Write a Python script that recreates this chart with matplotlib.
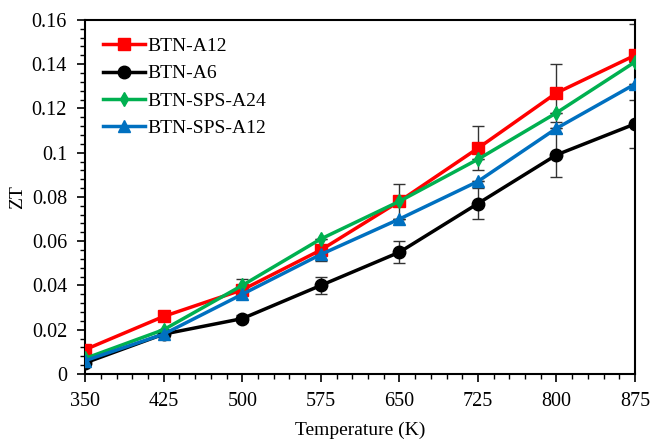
import matplotlib
matplotlib.use("Agg")
import matplotlib.pyplot as plt
import numpy as np

plt.rcParams['font.family'] = ['Liberation Serif', 'DejaVu Serif']

temps = [350, 425, 500, 575, 650, 725, 800, 875]
btn_a12 = [0.011, 0.026, 0.038, 0.056, 0.078, 0.102, 0.127, 0.144]
btn_a12_err = [0.0, 0.002, 0.0, 0.0, 0.008, 0.010, 0.013, 0.014]
btn_a6 = [0.005, 0.018, 0.025, 0.040, 0.055, 0.077, 0.099, 0.113]
btn_a6_err = [0.0, 0.0, 0.0015, 0.004, 0.005, 0.007, 0.010, 0.011]
sps_a24 = [0.007, 0.020, 0.040, 0.061, 0.078, 0.097, 0.118, 0.141]
sps_a24_err = [0.0, 0.0, 0.003, 0.0, 0.0, 0.0, 0.0, 0.0]
sps_a12 = [0.006, 0.018, 0.036, 0.054, 0.070, 0.087, 0.111, 0.131]
sps_a12_err = [0.0, 0.0, 0.0, 0.003, 0.0, 0.0, 0.0, 0.0]

x_ticks = [350, 425, 500, 575, 650, 725, 800, 875]
y_ticks = [0, 0.02, 0.04, 0.06, 0.08, 0.1, 0.12, 0.14, 0.16]
y_tick_labels = ["0", "0.02", "0.04", "0.06", "0.08", "0.1", "0.12", "0.14", "0.16"]

series = [
    ("BTN-A12", btn_a12, btn_a12_err, "#ff0000", "s", 8),
    ("BTN-A6", btn_a6, btn_a6_err, "#000000", "o", 9),
    ("BTN-SPS-A24", sps_a24, sps_a24_err, "#00b050", "d", 7),
    ("BTN-SPS-A12", sps_a12, sps_a12_err, "#0070c0", "^", 8),
]

fig = plt.figure(figsize=(6.5, 4.42), dpi=100)
ax = fig.add_axes([0.131, 0.154, 0.846, 0.801])

handles = []
for name, vals, errs, color, marker, ms in series:
    ax.errorbar(temps, vals, yerr=errs, fmt='none', ecolor="#333333",
                elinewidth=1, capsize=4, capthick=1, zorder=2)
    h, = ax.plot(temps, vals, color=color, marker=marker, ms=ms, lw=2.5,
                 label=name, zorder=3)
    handles.append(h)

ax.set_xlim(350, 875)
ax.set_ylim(0, 0.16)
ax.set_xticks(x_ticks)
ax.set_xticks(np.arange(x_ticks[0], x_ticks[-1] + 1, 15), minor=True)
ax.set_yticks(y_ticks)
ax.set_yticklabels(y_tick_labels)
ax.set_yticks(np.arange(0, 0.1601, 0.004), minor=True)
ax.tick_params(which='major', direction='out', length=6, width=1.2, labelsize=14.5, pad=7)
ax.tick_params(which='minor', direction='out', length=3.5, width=1)
for s in ax.spines.values():
    s.set_linewidth(1.5)

ax.set_xlabel("Temperature (K)", fontsize=14, labelpad=8)
ax.set_ylabel("ZT", fontsize=14, labelpad=4)

ax.legend(handles=handles, loc='upper left', frameon=False, fontsize=14,
          handlelength=2.2, handletextpad=0.1, labelspacing=0.5,
          borderaxespad=0.5)

fig.savefig("out.png", dpi=100)
